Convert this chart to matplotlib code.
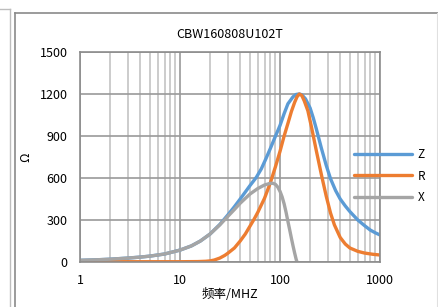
import matplotlib
matplotlib.use("Agg")
import matplotlib.pyplot as plt
from matplotlib.lines import Line2D

plt.rcParams['font.family'] = ['Noto Sans CJK SC', 'DejaVu Sans']

TITLE = "CBW160808U102T"
XLABEL = "频率/MHZ"
YLABEL = "Ω"

# (MHz, ohm)
z_freq = [1, 1.5, 2, 3, 4, 5, 7, 10, 13, 16, 20, 25, 30, 35, 40, 45, 50, 58,
          65, 72, 80, 89, 100, 110, 120, 135, 145, 156, 165, 180, 200, 215,
          230, 260, 290, 320, 360, 400, 450, 500, 600, 700, 800, 900, 1000]
z_vals = [12, 16, 20, 28, 35, 42, 57, 85, 115, 150, 200, 268, 335, 395, 450,
          500, 545, 605, 665, 735, 810, 890, 975, 1060, 1130, 1180, 1197, 1200,
          1195, 1165, 1100, 1030, 955, 810, 690, 595, 510, 450, 400, 360, 300,
          260, 228, 208, 193]

r_freq = [1, 5, 10, 15, 18, 20, 22, 25, 28, 30, 35, 40, 45, 50, 55, 60, 70,
          80, 90, 100, 110, 120, 130, 140, 148, 156, 165, 175, 190, 207, 230,
          260, 290, 320, 350, 400, 450, 500, 600, 700, 850, 1000]
r_vals = [2, 2, 2, 3, 5, 8, 14, 28, 47, 62, 100, 150, 200, 255, 305, 355,
          455, 565, 680, 790, 900, 990, 1075, 1140, 1180, 1200, 1190, 1150,
          1080, 960, 800, 620, 470, 350, 265, 175, 128, 100, 76, 64, 55, 50]

x_freq = [1, 1.5, 2, 3, 4, 5, 7, 10, 13, 16, 20, 25, 30, 35, 40, 50, 60, 70,
          80, 85, 90, 95, 100, 105, 110, 115, 120, 125, 130, 135, 140, 145, 148]
x_vals = [12, 16, 20, 28, 35, 42, 57, 85, 115, 150, 200, 265, 325, 375, 420,
          485, 525, 550, 562, 562, 555, 535, 505, 465, 415, 355, 290, 230, 170,
          115, 65, 20, 0]

YTICKS = [0, 300, 600, 900, 1200, 1500]
XTICKS = [1, 10, 100, 1000]

BLUE = "#5B9BD5"
ORANGE = "#ED7D31"
GRAY = "#A5A5A5"


def main():
    fig = plt.figure(figsize=(4.39, 3.07), dpi=100)
    ax = fig.add_axes([80 / 439, 45 / 307, 300 / 439, 210 / 307])

    ax.plot(z_freq, z_vals, color=BLUE, lw=2.4, label="Z", solid_capstyle="round")
    ax.plot(r_freq, r_vals, color=ORANGE, lw=2.4, label="R", solid_capstyle="round")
    ax.plot(x_freq, x_vals, color=GRAY, lw=2.4, label="X", solid_capstyle="round")

    ax.set_xscale("log")
    ax.set_xlim(1, 1000)
    ax.set_ylim(0, 1500)
    ax.set_xticks(XTICKS)
    ax.set_xticklabels([str(t) for t in XTICKS])
    ax.set_yticks(YTICKS)
    ax.tick_params(which="both", length=0, labelsize=9)
    ax.tick_params(axis="x", pad=9)
    ax.tick_params(axis="y", pad=9)
    ax.grid(True, which="major", color="#9a9a9a", lw=1.2)
    ax.grid(True, which="minor", axis="x", color="#c4c4c4", lw=1.2)
    ax.set_axisbelow(True)
    for s in ax.spines.values():
        s.set_color("#8c8c8c")
        s.set_linewidth(1.2)

    ax.set_title(TITLE, fontsize=9, pad=10)
    ax.set_xlabel(XLABEL, fontsize=9, labelpad=0)
    ax.set_ylabel(YLABEL, fontsize=9, labelpad=5, rotation=90)

    fig.legend(loc="center left", bbox_to_anchor=(354 / 439, 1 - 176 / 307),
               frameon=False, fontsize=8.5, handlelength=4.9, handletextpad=0.5,
               labelspacing=0.72, borderpad=0, borderaxespad=0)

    # outer frames
    W, H = 439.0, 307.0
    def seg(x0, y0, x1, y1, c, lw):
        fig.add_artist(Line2D([x0 / W, x1 / W], [1 - y0 / H, 1 - y1 / H],
                              color=c, lw=lw, transform=fig.transFigure))
    seg(0, 8.5, 10.5, 8.5, "#bdbdbd", 1.0)
    seg(10.5, 8.5, 10.5, 307, "#bdbdbd", 1.0)
    seg(15.5, 13, 15.5, 307, "#8a8a8a", 1.2)
    seg(15.5, 13, 439, 13, "#8a8a8a", 1.2)
    seg(437.5, 13, 437.5, 307, "#e0e0e0", 0.8)

    fig.savefig("out.png", dpi=100)


if __name__ == "__main__":
    main()
